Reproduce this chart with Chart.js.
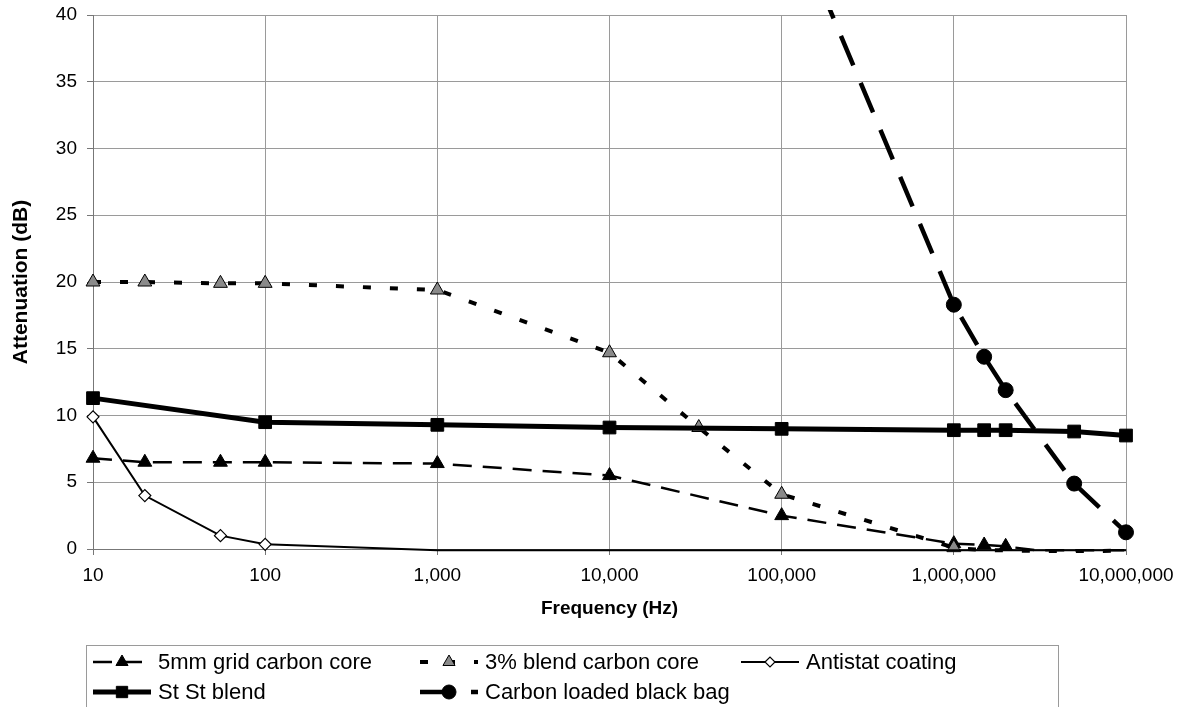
<!DOCTYPE html>
<html>
<head>
<meta charset="utf-8">
<script src="https://cdn.jsdelivr.net/npm/chart.js@4.4.1/dist/chart.umd.min.js"></script>
<style>
  html, body { margin: 0; padding: 0; background: #fff; }
  #wrap { width: 1188px; height: 707px; position: relative; }
</style>
</head>
<body>
<div id="wrap"><canvas id="grafico"></canvas></div>
<script>
// eixo X (log) e eixo Y
const xTickValues = [10, 100, 1000, 10000, 100000, 1000000, 10000000];
const xTickLabels = ['10', '100', '1,000', '10,000', '100,000', '1,000,000', '10,000,000'];
const yMin = 0;
const yMax = 40;
const yStep = 5;

// series
const gridFreq = [10, 20, 55, 100, 1000, 10000, 100000, 1000000, 1500000, 2000000, 3000000, 5000000, 10000000];
const gridValues = [6.8, 6.5, 6.5, 6.5, 6.4, 5.5, 2.5, 0.4, 0.3, 0.2, -0.1, -0.1, -0.1];

const blendFreq = [10, 20, 55, 100, 1000, 10000, 33000, 100000, 1000000, 1500000, 2000000, 5000000, 10000000];
const blendValues = [20.0, 20.0, 19.9, 19.9, 19.4, 14.7, 9.1, 4.1, 0.1, -0.1, -0.1, -0.2, -0.1];

const antistatFreq = [10, 20, 55, 100, 1000, 10000, 100000, 1000000, 2000000, 5000000, 10000000];
const antistatValues = [9.9, 4.0, 1.0, 0.35, -0.1, -0.1, -0.1, -0.1, -0.1, -0.1, -0.1];

const ststFreq = [10, 100, 1000, 10000, 100000, 1000000, 1500000, 2000000, 5000000, 10000000];
const ststValues = [11.3, 9.5, 9.3, 9.1, 9.0, 8.9, 8.9, 8.9, 8.8, 8.5];

const carbonFreq = [100000, 1000000, 1500000, 2000000, 5000000, 10000000];
const carbonValues = [49, 18.3, 14.4, 11.9, 4.9, 1.25];

const seriesNames = ['5mm grid carbon core', '3% blend carbon core', 'Antistat coating', 'St St blend', 'Carbon loaded black bag'];

const fonte = '"Liberation Sans", Arial, sans-serif';

function pontos(freqs, valores) {
  return freqs.map((f, i) => ({ x: f, y: valores[i] }));
}

// como no Excel: marcador fora da faixa do eixo nao aparece
function raio(r) {
  return ctx => {
    const v = ctx.raw ? ctx.raw.y : 0;
    return (v < yMin || v > yMax) ? 0 : r;
  };
}

const recorte = { left: 10, right: 10, top: 5, bottom: 4 };

const datasets = [
  {
    label: seriesNames[0], data: pontos(gridFreq, gridValues),
    borderColor: '#000', borderWidth: 2.5, borderDash: [19, 11],
    pointStyle: 'triangle', pointRadius: raio(8), legendRadius: 7,
    pointBackgroundColor: '#000', pointBorderColor: '#000', pointBorderWidth: 1
  },
  {
    label: seriesNames[1], data: pontos(blendFreq, blendValues),
    borderColor: '#000', borderWidth: 4, borderDash: [8, 19],
    pointStyle: 'triangle', pointRadius: raio(8), legendRadius: 7,
    pointBackgroundColor: '#8a8a8a', pointBorderColor: '#000', pointBorderWidth: 1
  },
  {
    label: seriesNames[2], data: pontos(antistatFreq, antistatValues),
    borderColor: '#000', borderWidth: 2, borderDash: [],
    pointStyle: 'rectRot', pointRadius: raio(6), legendRadius: 5,
    pointBackgroundColor: '#fff', pointBorderColor: '#000', pointBorderWidth: 1.2
  },
  {
    label: seriesNames[3], data: pontos(ststFreq, ststValues),
    borderColor: '#000', borderWidth: 5, borderDash: [],
    pointStyle: 'rect', pointRadius: raio(9), legendRadius: 8,
    pointBackgroundColor: '#000', pointBorderColor: '#000', pointBorderWidth: 1
  },
  {
    label: seriesNames[4], data: pontos(carbonFreq, carbonValues),
    borderColor: '#000', borderWidth: 4.5, borderDash: [32, 19],
    pointStyle: 'circle', pointRadius: raio(7.5), legendRadius: 7,
    pointBackgroundColor: '#000', pointBorderColor: '#000', pointBorderWidth: 1
  }
];
datasets.forEach((ds, i) => {
  ds.order = datasets.length - i;
  ds.clip = recorte;
  ds.tension = 0;
  ds.fill = false;
  ds.pointHoverRadius = 0;
});

// legenda em caixa, 3 colunas x 2 linhas
const legendaX = [93, 420, 741, 93, 420];
const legendaY = [662, 662, 662, 692, 692];

const legendaCaixa = {
  id: 'legendaCaixa',
  afterDraw(chart) {
    const ctx = chart.ctx;
    ctx.save();
    ctx.strokeStyle = '#9a9a9a';
    ctx.lineWidth = 1;
    ctx.strokeRect(86.5, 645.5, 972, 90);
    chart.data.datasets.forEach((ds, i) => {
      const x = legendaX[i], y = legendaY[i];
      ctx.strokeStyle = ds.borderColor;
      ctx.lineWidth = ds.borderWidth;
      ctx.setLineDash(ds.borderDash);
      ctx.beginPath();
      ctx.moveTo(x, y);
      ctx.lineTo(x + 58, y);
      ctx.stroke();
      ctx.setLineDash([]);
      ctx.fillStyle = ds.pointBackgroundColor;
      ctx.strokeStyle = ds.pointBorderColor;
      ctx.lineWidth = ds.pointBorderWidth;
      Chart.helpers.drawPoint(ctx, { pointStyle: ds.pointStyle, radius: ds.legendRadius, rotation: 0, borderWidth: ds.pointBorderWidth }, x + 29, y);
      ctx.fillStyle = '#000';
      ctx.font = '22px ' + fonte;
      ctx.textBaseline = 'middle';
      ctx.textAlign = 'left';
      ctx.fillText(ds.label, x + 65, y + 1);
    });
    ctx.restore();
  }
};

const ctx = document.getElementById('grafico').getContext('2d');
new Chart(ctx, {
  type: 'line',
  data: { datasets: datasets },
  plugins: [legendaCaixa],
  options: {
    responsive: true,
    maintainAspectRatio: false,
    animation: false,
    events: [],
    layout: { padding: { top: 15, right: 62, bottom: 83, left: 0 } },
    plugins: {
      legend: { display: false },
      tooltip: { enabled: false }
    },
    scales: {
      x: {
        type: 'logarithmic',
        min: 10,
        max: 10000000,
        afterBuildTicks: scale => {
          scale.ticks = xTickValues.map(v => ({ value: v }));
        },
        afterFit: scale => { scale.height = 75; },
        ticks: {
          autoSkip: false,
          maxRotation: 0,
          padding: 9,
          color: '#000',
          font: { family: fonte, size: 19 },
          callback: (v, i) => xTickLabels[i]
        },
        grid: { color: '#9a9a9a', lineWidth: 1, tickLength: 6, tickColor: '#777' },
        border: { color: '#777', width: 1 },
        title: {
          display: true,
          text: 'Frequency (Hz)',
          color: '#000',
          font: { family: fonte, size: 19, weight: 'bold' },
          padding: { top: 4, bottom: 4 }
        }
      },
      y: {
        min: yMin,
        max: yMax,
        afterFit: scale => {
          scale.width = 93;
          scale.paddingTop = 0;
          scale.paddingBottom = 0;
        },
        ticks: {
          stepSize: yStep,
          padding: 10,
          color: '#000',
          font: { family: fonte, size: 19 }
        },
        grid: { color: '#9a9a9a', lineWidth: 1, tickLength: 6, tickColor: '#777' },
        border: { color: '#777', width: 1 },
        title: {
          display: true,
          text: 'Attenuation (dB)',
          color: '#000',
          font: { family: fonte, size: 21, weight: 'bold' },
          padding: { top: 9, bottom: 4 }
        }
      }
    }
  }
});
</script>
</body>
</html>
